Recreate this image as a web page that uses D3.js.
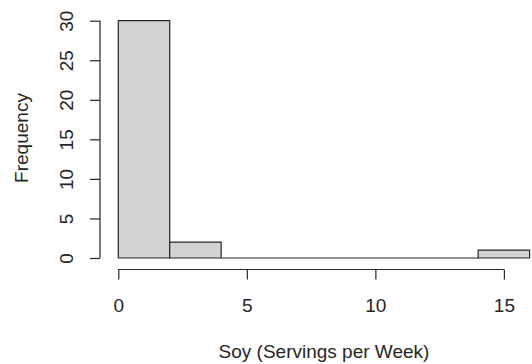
<!DOCTYPE html>
<html>
<head>
<meta charset="utf-8">
<script src="https://cdn.jsdelivr.net/npm/d3@7"></script>
<style>
  html, body { margin: 0; padding: 0; background: #fff; }
  svg { display: block; }
  text { font-family: "Liberation Sans", Arial, sans-serif; fill: #262626; }
</style>
</head>
<body>
<svg id="chart" width="532" height="364"></svg>
<script>
// Histogram bins (break points every 2 servings) and their counts
const binStarts = [0, 2, 4, 6, 8, 10, 12, 14];
const binWidth = 2;
const counts = [30, 2, 0, 0, 0, 0, 0, 1];
const xTicks = [0, 5, 10, 15];
const yTicks = [0, 5, 10, 15, 20, 25, 30];
const xTitle = "Soy (Servings per Week)";
const yTitle = "Frequency";

const svg = d3.select("#chart");
const ink = "#262626";
const fontSize = 19;

const x = d3.scaleLinear().domain([0, 16]).range([118.3, 529.6]);
const y = d3.scaleLinear().domain([0, 30]).range([258, 20.7]);

// Bars drawn as closed paths so empty bins still show as a baseline stroke
svg.append("g")
  .selectAll("path")
  .data(binStarts.map((s, i) => ({ s, n: counts[i] })))
  .join("path")
  .attr("d", d => {
    const x0 = x(d.s), x1 = x(d.s + binWidth), y0 = y(0), y1 = y(d.n);
    return `M${x0},${y0}V${y1}H${x1}V${y0}Z`;
  })
  .attr("fill", "#d3d3d3")
  .attr("stroke", ink)
  .attr("stroke-width", 1.2);

// X axis, offset below the plot
const xAxis = svg.append("g")
  .attr("transform", "translate(0,269.5)")
  .call(d3.axisBottom(x).tickValues(xTicks).tickSize(10)
    .tickSizeOuter(0).tickFormat(d3.format("d")));
xAxis.select(".domain").attr("d", `M${x(0)},0H${x(15)}`);
xAxis.selectAll(".tick text").attr("y", 42).attr("dy", 0);

// Y axis, offset left of the plot; labels turned parallel to the axis
const yAxis = svg.append("g")
  .attr("transform", "translate(100,0)")
  .call(d3.axisLeft(y).tickValues(yTicks).tickSize(10).tickSizeOuter(0)
    .tickFormat(d3.format("d")));
yAxis.select(".domain").attr("d", `M0,${y(0)}V${y(30)}`);
yAxis.selectAll(".tick text")
  .attr("x", 0).attr("dy", 0)
  .attr("text-anchor", "middle")
  .attr("transform", "translate(-27,0) rotate(-90)");

[xAxis, yAxis].forEach(g => {
  g.selectAll(".domain, .tick line").attr("stroke", ink).attr("stroke-width", 1.2);
  g.selectAll(".tick text").attr("font-size", fontSize).attr("fill", ink)
    .attr("font-family", "Liberation Sans, Arial, sans-serif");
});

svg.append("text")
  .attr("x", 324).attr("y", 358)
  .attr("text-anchor", "middle")
  .attr("font-size", fontSize)
  .text(xTitle);

svg.append("text")
  .attr("transform", "translate(28,138) rotate(-90)")
  .attr("text-anchor", "middle")
  .attr("font-size", fontSize)
  .text(yTitle);
</script>
</body>
</html>
